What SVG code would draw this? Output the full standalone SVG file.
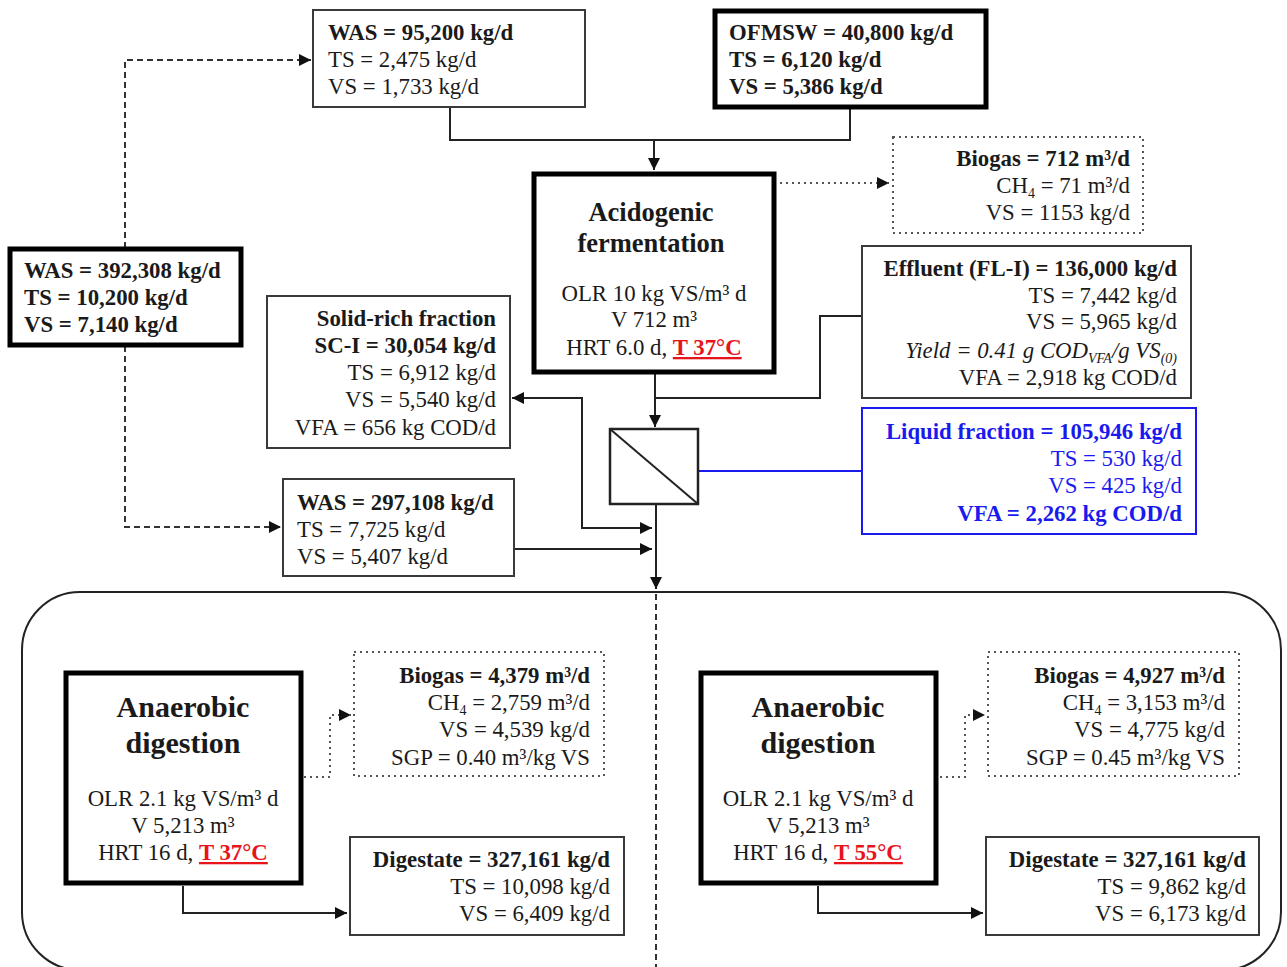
<svg xmlns="http://www.w3.org/2000/svg" width="1287" height="967" viewBox="0 0 1287 967">
<style>
text{font-family:"Liberation Serif","Times New Roman",serif;font-size:22.8px;fill:#1a1a1a}
.b{font-weight:bold}
.r{text-anchor:end}
.c{text-anchor:middle}
.t26{font-size:26.5px;font-weight:bold}
.t30{font-size:30px;font-weight:bold}
.blue{fill:#1a1aee}
.red{fill:#e8141b;font-weight:bold;text-decoration:underline}
.thin{fill:#fff;stroke:#3a3a3a;stroke-width:2}
.thick{fill:#fff;stroke:#000;stroke-width:5}
.dot{fill:#fff;stroke:#555;stroke-width:2;stroke-dasharray:2 4}
.ln{fill:none;stroke:#222;stroke-width:2}
.dash{fill:none;stroke:#333;stroke-width:2;stroke-dasharray:6 4}
.dotl{fill:none;stroke:#555;stroke-width:2;stroke-dasharray:2 4}
.sub{font-size:14px}
</style>
<defs>
<marker id="ah" viewBox="0 0 10 10" refX="10" refY="5" markerWidth="6" markerHeight="6" orient="auto-start-reverse" markerUnits="strokeWidth">
<path d="M0,0 L10,5 L0,10 z" fill="#111"/>
</marker>
</defs>
<rect width="1287" height="967" fill="#fff"/>

<g id="connectors">
<path class="dash" d="M125,248 V60 H311" marker-end="url(#ah)"/>
<path class="dash" d="M125,346 V527 H281" marker-end="url(#ah)"/>
<path class="ln" d="M450,107 V140 H850 V108"/>
<path class="ln" d="M654,140 V170" marker-end="url(#ah)"/>
<path class="dotl" d="M780,183 H889" marker-end="url(#ah)"/>
<path class="ln" d="M862,316 H820 V398 H655"/>
<path class="ln" d="M655,373 V427" marker-end="url(#ah)"/>
<path class="ln" d="M512,398 H582 V528 H652" marker-start="url(#ah)" marker-end="url(#ah)"/>
<path class="ln" d="M515,549 H652" marker-end="url(#ah)"/>
<path class="ln" d="M656,504 V589" marker-end="url(#ah)"/>
<path fill="none" stroke="#1a1aee" stroke-width="2" d="M698,471 H862"/>
<path class="dash" d="M656,594 V967" stroke-width="1.5"/>
<path class="dotl" d="M304,777 H330 V715 H351" marker-end="url(#ah)"/>
<path class="ln" d="M183,886 V913 H347" marker-end="url(#ah)"/>
<path class="dotl" d="M940,777 H965 V715 H985" marker-end="url(#ah)"/>
<path class="ln" d="M818,886 V913 H983" marker-end="url(#ah)"/>
</g>

<g id="ad-frame">
<rect x="22" y="592" width="1259" height="378" rx="58" ry="58" fill="none" stroke="#222" stroke-width="2"/>
</g>

<g id="was-95200">
<rect class="thin" x="313" y="10" width="272" height="97"/>
<text x="328" y="40" class="b">WAS = 95,200 kg/d</text>
<text x="328" y="67">TS = 2,475 kg/d</text>
<text x="328" y="94">VS = 1,733 kg/d</text>
</g>

<g id="ofmsw">
<rect class="thick" x="715" y="11" width="271" height="96"/>
<text x="729" y="40" class="b">OFMSW = 40,800 kg/d</text>
<text x="729" y="67" class="b">TS = 6,120 kg/d</text>
<text x="729" y="94" class="b">VS = 5,386 kg/d</text>
</g>

<g id="acidogenic">
<rect class="thick" x="534" y="174" width="240" height="198"/>
<text x="651" y="221" class="c t26">Acidogenic</text>
<text x="651" y="252" class="c t26">fermentation</text>
<text x="654" y="301" class="c">OLR 10 kg VS/m³ d</text>
<text x="654" y="327" class="c">V 712 m³</text>
<text x="654" y="355" class="c">HRT 6.0 d, <tspan class="red">T 37°C</tspan></text>
</g>

<g id="biogas-af">
<rect class="dot" x="893" y="137" width="250" height="96"/>
<text x="1130" y="166" class="r b">Biogas = 712 m³/d</text>
<text x="1130" y="193" class="r">CH<tspan class="sub" dy="5">4</tspan><tspan dy="-5"> = 71 m³/d</tspan></text>
<text x="1130" y="220" class="r">VS = 1153 kg/d</text>
</g>

<g id="effluent">
<rect class="thin" x="862" y="246" width="329" height="152"/>
<text x="1177" y="276" class="r b">Effluent (FL-I) = 136,000 kg/d</text>
<text x="1177" y="303" class="r">TS = 7,442 kg/d</text>
<text x="1177" y="329" class="r">VS = 5,965 kg/d</text>
<text x="1177" y="358" class="r" font-style="italic">Yield = 0.41 g COD<tspan class="sub" dy="5">VFA</tspan><tspan dy="-5">/g VS</tspan><tspan class="sub" dy="5">(0)</tspan></text>
<text x="1177" y="385" class="r">VFA = 2,918 kg COD/d</text>
</g>

<g id="liquid">
<rect x="862" y="408" width="334" height="126" fill="#fff" stroke="#1a1aee" stroke-width="2"/>
<text x="1182" y="439" class="r b blue">Liquid fraction = 105,946 kg/d</text>
<text x="1182" y="466" class="r blue">TS = 530 kg/d</text>
<text x="1182" y="493" class="r blue">VS = 425 kg/d</text>
<text x="1182" y="521" class="r b blue">VFA = 2,262 kg COD/d</text>
</g>

<g id="separator">
<rect x="610" y="429" width="88" height="75" fill="#fff" stroke="#222" stroke-width="2.5"/>
<path d="M610,429 L698,504" stroke="#222" stroke-width="2" fill="none"/>
</g>

<g id="solid-rich">
<rect class="thin" x="267" y="296" width="243" height="152"/>
<text x="496" y="326" class="r b">Solid-rich fraction</text>
<text x="496" y="353" class="r b">SC-I = 30,054 kg/d</text>
<text x="496" y="380" class="r">TS = 6,912 kg/d</text>
<text x="496" y="407" class="r">VS = 5,540 kg/d</text>
<text x="496" y="435" class="r">VFA = 656 kg COD/d</text>
</g>

<g id="was-392308">
<rect class="thick" x="10" y="249" width="231" height="96"/>
<text x="24" y="278" class="b">WAS = 392,308 kg/d</text>
<text x="24" y="305" class="b">TS = 10,200 kg/d</text>
<text x="24" y="332" class="b">VS = 7,140 kg/d</text>
</g>

<g id="was-297108">
<rect class="thin" x="283" y="479" width="231" height="97"/>
<text x="297" y="510" class="b">WAS = 297,108 kg/d</text>
<text x="297" y="537">TS = 7,725 kg/d</text>
<text x="297" y="564">VS = 5,407 kg/d</text>
</g>

<g id="ad-37">
<rect class="thick" x="66" y="673" width="235" height="210"/>
<text x="183" y="717" class="c t30">Anaerobic</text>
<text x="183" y="753" class="c t30">digestion</text>
<text x="183" y="806" class="c">OLR 2.1 kg VS/m³ d</text>
<text x="183" y="833" class="c">V 5,213 m³</text>
<text x="183" y="860" class="c">HRT 16 d, <tspan class="red">T 37°C</tspan></text>
</g>

<g id="biogas-37">
<rect class="dot" x="354" y="652" width="250" height="124"/>
<text x="590" y="683" class="r b">Biogas = 4,379 m³/d</text>
<text x="590" y="710" class="r">CH<tspan class="sub" dy="5">4</tspan><tspan dy="-5"> = 2,759 m³/d</tspan></text>
<text x="590" y="737" class="r">VS = 4,539 kg/d</text>
<text x="590" y="765" class="r">SGP = 0.40 m³/kg VS</text>
</g>

<g id="digestate-37">
<rect class="thin" x="350" y="837" width="274" height="98"/>
<text x="610" y="867" class="r b">Digestate = 327,161 kg/d</text>
<text x="610" y="894" class="r">TS = 10,098 kg/d</text>
<text x="610" y="921" class="r">VS = 6,409 kg/d</text>
</g>

<g id="ad-55">
<rect class="thick" x="701" y="673" width="235" height="210"/>
<text x="818" y="717" class="c t30">Anaerobic</text>
<text x="818" y="753" class="c t30">digestion</text>
<text x="818" y="806" class="c">OLR 2.1 kg VS/m³ d</text>
<text x="818" y="833" class="c">V 5,213 m³</text>
<text x="818" y="860" class="c">HRT 16 d, <tspan class="red">T 55°C</tspan></text>
</g>

<g id="biogas-55">
<rect class="dot" x="988" y="652" width="251" height="124"/>
<text x="1225" y="683" class="r b">Biogas = 4,927 m³/d</text>
<text x="1225" y="710" class="r">CH<tspan class="sub" dy="5">4</tspan><tspan dy="-5"> = 3,153 m³/d</tspan></text>
<text x="1225" y="737" class="r">VS = 4,775 kg/d</text>
<text x="1225" y="765" class="r">SGP = 0.45 m³/kg VS</text>
</g>

<g id="digestate-55">
<rect class="thin" x="986" y="837" width="273" height="98"/>
<text x="1246" y="867" class="r b">Digestate = 327,161 kg/d</text>
<text x="1246" y="894" class="r">TS = 9,862 kg/d</text>
<text x="1246" y="921" class="r">VS = 6,173 kg/d</text>
</g>
</svg>
